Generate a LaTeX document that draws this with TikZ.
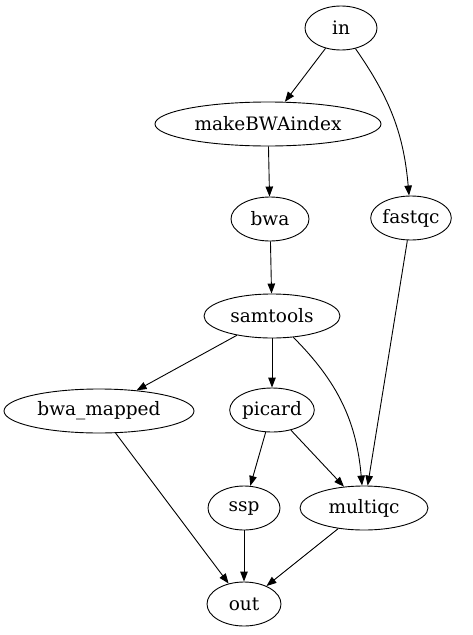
\documentclass[tikz,border=0pt]{standalone}
\usepackage{fontspec}
\setmainfont{DejaVu Serif}
\usetikzlibrary{shapes.geometric,arrows.meta}
\begin{document}
\begin{tikzpicture}[x=1pt,y=-1pt,
  nd/.style={draw,ellipse,line width=0.9pt,inner sep=0pt,minimum height=44pt,font=\fontsize{18.5}{20}\selectfont},
  ar/.style={line width=0.9pt,-{Triangle[length=10pt,width=7.5pt]}}]
\useasboundingbox (0,0) rectangle (473,635);
\node[nd,minimum width=72pt] (in) at (341,28) {in};
\node[nd,minimum width=226pt] (mk) at (268,124) {makeBWAindex};
\node[nd,minimum width=78pt] (bwa) at (270,219) {bwa};
\node[nd,minimum width=76pt] (fq) at (411,218) {fastqc};
\node[nd,minimum width=136pt] (st) at (272,316) {samtools};
\node[nd,minimum width=190pt] (bm) at (99,411) {bwa\_mapped};
\node[nd,minimum width=82pt] (pc) at (272,410) {picard};
\node[nd,minimum width=72pt] (ssp) at (244,508) {ssp};
\node[nd,minimum width=128pt] (mq) at (364,508) {multiqc};
\node[nd,minimum width=74pt] (out) at (244,604) {out};
\draw[ar] (in) -- (mk);
\draw[ar] (in) to[out=-55,in=95] (fq);
\draw[ar] (mk) -- (bwa);
\draw[ar] (bwa) -- (st);
\draw[ar] (fq) -- (mq);
\draw[ar] (st) -- (bm);
\draw[ar] (st) -- (pc);
\draw[ar] (st) to[out=-45,in=95] (mq);
\draw[ar] (bm) -- (out);
\draw[ar] (pc) -- (ssp);
\draw[ar] (pc) -- (mq);
\draw[ar] (ssp) -- (out);
\draw[ar] (mq) -- (out);
\end{tikzpicture}
\end{document}
